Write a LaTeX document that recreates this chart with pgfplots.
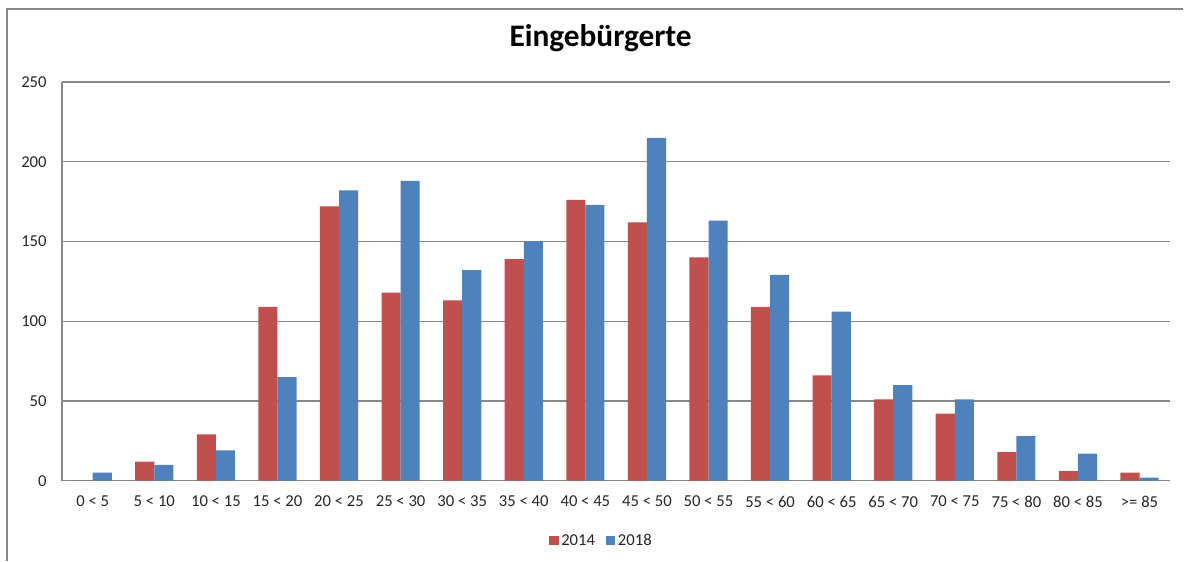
\documentclass[border=0pt]{standalone}
\usepackage{pgfplots}
\pgfplotsset{compat=1.18}
\usepackage{fontspec}
\setmainfont{Carlito}

\definecolor{red14}{HTML}{C0504D}
\definecolor{blue18}{HTML}{4F81BD}
\definecolor{gridgray}{HTML}{888888}

\begin{document}
\begin{tikzpicture}
\begin{axis}[
  scale only axis,
  width=831.75pt, height=299.25pt,
  ybar=0pt, bar width=0.31,
  xmin=-0.5, xmax=17.5,
  ymin=0, ymax=250,
  ytick={0,50,...,250},
  xtick=data,
  xticklabels={0 < 5, 5 < 10, 10 < 15, 15 < 20, 20 < 25, 25 < 30, 30 < 35, 35 < 40, 40 < 45, 45 < 50, 50 < 55, 55 < 60, 60 < 65, 65 < 70, 70 < 75, 75 < 80, 80 < 85, >= 85},
  major tick length=0pt,
  axis x line*=bottom, axis y line*=left,
  axis line style={gridgray, line width=0.9pt, -},
  ymajorgrids, grid style={gridgray, line width=0.9pt},
  tick label style={font=\fontsize{12.5}{14}\selectfont, text=black!85},
  /pgf/number format/assume math mode=true,
  yticklabel style={xshift=-8pt},
  xticklabel style={yshift=-8pt},
  title={\textbf{Eingebürgerte}},
  title style={font=\fontsize{23.5}{28}\selectfont, at={(0.486,1)}, anchor=center, yshift=27pt},
  legend columns=2,
  legend style={draw=none, at={(0.487,0)}, anchor=center, yshift=-45pt,
    font=\fontsize{12.5}{14}\selectfont, text=black!85,
    /tikz/every even column/.append style={column sep=6pt}},
  legend image code/.code={\fill[#1] (0pt,-3.4pt) rectangle (7.2pt,3.8pt);},
  clip=false,
]
\addplot[fill=red14, draw=none] coordinates {
 (0,0) (1,12) (2,29) (3,109) (4,172) (5,118) (6,113) (7,139) (8,176)
 (9,162) (10,140) (11,109) (12,66) (13,51) (14,42) (15,18) (16,6) (17,5)
};
\addplot[fill=blue18, draw=none] coordinates {
 (0,5) (1,10) (2,19) (3,65) (4,182) (5,188) (6,132) (7,150) (8,173)
 (9,215) (10,163) (11,129) (12,106) (13,60) (14,51) (15,28) (16,17) (17,2)
};
\legend{2014, 2018}
% chart frame and page extent
\path (rel axis cs:-0.0559,-0.2005) rectangle (rel axis cs:1.0118,1.2055);
\draw[gridgray, line width=0.9pt] (rel axis cs:-0.0496,-0.2005) -- (rel axis cs:-0.0496,1.183) -- (rel axis cs:1.0118,1.183);
\end{axis}
\end{tikzpicture}
\end{document}
